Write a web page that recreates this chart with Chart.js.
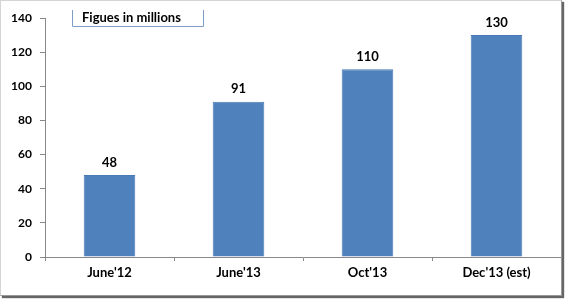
<html>
	<head>
		<script src="https://cdn.jsdelivr.net/npm/chart.js@4/dist/chart.umd.min.js"></script>
		<style>
			body { margin: 0; background: #fff; }
			#container {
				position: absolute;
				left: 0; top: 0;
				width: 560px; height: 294px;
				border: 1px solid #d4d4d4;
				border-right-color: #999;
				border-bottom-color: #999;
				box-shadow: 2px 2px 1px #666;
				background: #fff;
			}
		</style>
	</head>
	<body>
		<div id="container"><canvas id="myChart"></canvas></div>
		<script>
			var categories = ["June'12", "June'13", "Oct'13", "Dec'13 (est)"];
			var values = [48, 91, 110, 130];
			var yTicks = [0, 20, 40, 60, 80, 100, 120, 140];
			var boxText = "Figues in millions";

			var FONT = "Lato, 'Open Sans', sans-serif";

			// numbers above the bars + the little text box
			var labelPlugin = {
				id: 'labels',
				afterDatasetsDraw: function(chart) {
					var ctx = chart.ctx;
					var meta = chart.getDatasetMeta(0);
					ctx.save();
					ctx.font = "bold 13px " + FONT;
					ctx.fillStyle = "#000";
					ctx.textAlign = "center";
					ctx.textBaseline = "bottom";
					meta.data.forEach(function(bar, i) {
						ctx.fillText(values[i], bar.x, bar.y - 6);
					});

					ctx.strokeStyle = "#7f9cc4";
					ctx.lineWidth = 1;
					ctx.beginPath();
					ctx.moveTo(71.5, 9);
					ctx.lineTo(71.5, 25.5);
					ctx.lineTo(202.5, 25.5);
					ctx.lineTo(202.5, 9);
					ctx.stroke();
					ctx.textAlign = "left";
					ctx.textBaseline = "alphabetic";
					ctx.font = "bold 13px " + FONT;
					ctx.fillText(boxText, 81, 21);
					ctx.restore();
				}
			};

			var ctx = document.getElementById('myChart').getContext('2d');
			var myChart = new Chart(ctx, {
				type: 'bar',
				data: {
					labels: categories,
					datasets: [{
						data: values,
						backgroundColor: '#4f81bd',
						borderColor: '#4a7ab5',
						borderWidth: 1,
						categoryPercentage: 1,
						barPercentage: 0.4
					}]
				},
				options: {
					responsive: true,
					maintainAspectRatio: false,
					animation: false,
					layout: { padding: { left: 0, right: 0, top: 17, bottom: 0 } },
					plugins: {
						legend: { display: false },
						tooltip: { enabled: false }
					},
					scales: {
						x: {
							grid: { display: true, drawOnChartArea: false, drawTicks: true, tickLength: 4, color: '#888', offset: true },
							border: { display: true, color: '#888' },
							ticks: { color: '#000', font: { family: FONT, size: 13, weight: 'bold' }, padding: 4 },
							afterFit: function(scale) { scale.height = 38; }
						},
						y: {
							min: 0,
							max: 140,
							afterBuildTicks: function(scale) {
								scale.ticks = yTicks.map(function(v) { return { value: v }; });
							},
							grid: { display: true, drawOnChartArea: false, drawTicks: true, tickLength: 5, color: '#888' },
							border: { display: true, color: '#888' },
							ticks: { color: '#000', font: { family: FONT, size: 12, weight: 'bold' }, padding: 8 },
							afterFit: function(scale) { scale.width = 44; }
						}
					}
				},
				plugins: [labelPlugin]
			});
		</script>
	</body>
</html>
